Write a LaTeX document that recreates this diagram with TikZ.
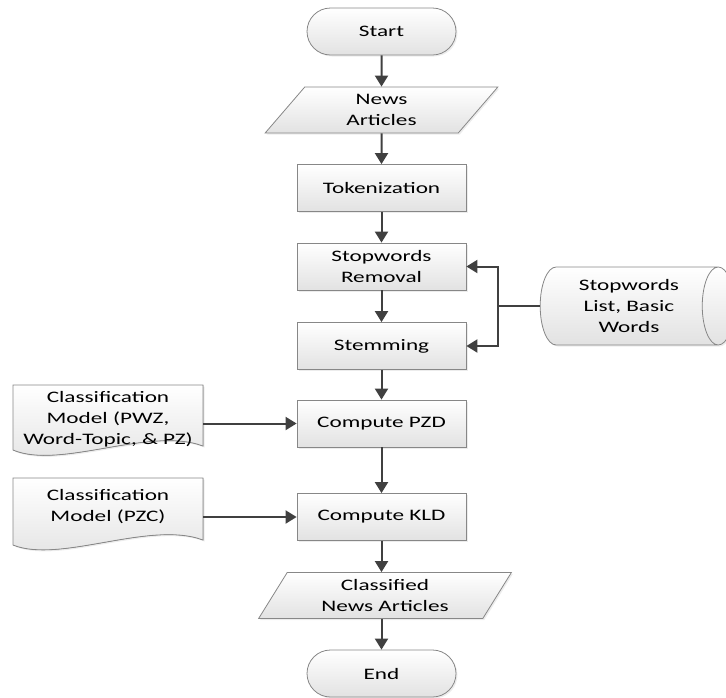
\documentclass[tikz,border=0pt]{standalone}
\usepackage{fontspec}
\setmainfont{Carlito}[FakeStretch=1.45]
\usetikzlibrary{shapes.geometric,shapes.misc,arrows.meta,shadows}
\definecolor{FlowLGray}{RGB}{226,226,226}
\definecolor{FlowGray}{RGB}{135,135,135}
\definecolor{FlowDGray}{RGB}{64,64,64}

\tikzset{
  flowfill/.style={draw=FlowGray, line width=0.8pt, top color=white, bottom color=FlowLGray,
    drop shadow={opacity=0.15, shadow xshift=1.5pt, shadow yshift=-1.5pt}},
  flowtext/.style={font=\fontsize{16}{21}\selectfont, align=center, inner sep=0pt},
  procbox/.style={flowfill, flowtext, rectangle, minimum width=169pt, minimum height=47pt},
  termbox/.style={flowfill, flowtext, rounded rectangle, minimum width=149pt, minimum height=47pt},
  iobox/.style={flowfill, flowtext, trapezium, trapezium left angle=60, trapezium right angle=120,
    trapezium stretches=true, minimum height=46pt},
  doctext/.style={flowtext, minimum width=190pt},
  arr/.style={-{Triangle[length=11pt,width=13pt]}, line width=2pt, draw=FlowDGray}
}

\begin{document}
\begin{tikzpicture}[x=1pt, y=-1pt]
\pgfmathsetmacro{\xc}{381.5} % x of the main column

\useasboundingbox (0,0) rectangle (726,697); % page

\node[termbox] (start) at (\xc, 31.5) {Start};
\node[iobox, minimum width=233pt] (news) at (\xc, 110) {News\\Articles};
\node[procbox] (token) at (\xc, 188) {Tokenization};
\node[procbox] (stopr) at (\xc, 266.5) {Stopwords\\Removal};
\node[procbox] (stem) at (\xc, 346) {Stemming};
\node[procbox] (pzd) at (\xc, 423.5) {Compute PZD};
\node[procbox] (kld) at (\xc, 517) {Compute KLD};
\node[iobox, minimum width=253pt] (classif) at (385, 595.5) {Classified\\News Articles};
\node[termbox] (finish) at (\xc, 673.5) {End};

% stopword list (drum)
\node[flowfill, flowtext, cylinder, aspect=0.6, minimum height=194pt, minimum width=78pt,
  shape border rotate=0] (stoplist) at (629, 306) {Stopwords\\List, Basic\\Words};

% classification models (documents)
\filldraw[flowfill] (13,385) -- (203,385) -- (203,446) .. controls (150,426) and (60,470) .. (13,450) -- cycle; %PWZ model
\node[doctext] (pwz) at (108, 419) {Classification\\Model (PWZ,\\Word-Topic, \& PZ)};
\filldraw[flowfill] (13,478) -- (203,478) -- (203,540) .. controls (150,520) and (60,564) .. (13,545) -- cycle; %PZC model
\node[doctext] (pzc) at (108, 507) {Classification\\Model (PZC)};

% main flow
\draw[arr] (start) -- (news);
\draw[arr] (news) -- (token);
\draw[arr] (token) -- (stopr);
\draw[arr] (stopr) -- (stem);
\draw[arr] (stem) -- (pzd);
\draw[arr] (pzd) -- (kld);
\draw[arr] (kld.south) -- (kld.south |- classif.north);
\draw[arr] (finish.north |- classif.south) -- (finish.north);

% side inputs
\coordinate (split) at (498, 306);
\draw[line width=2pt, draw=FlowDGray] (stoplist.west) -- (split);
\draw[arr] (split) |- (stopr.east);
\draw[arr] (split) |- (stem.east);
\draw[arr] (pwz.east |- pzd.west) -- (pzd.west);
\draw[arr] (pzc.east |- kld.west) -- (kld.west);

\end{tikzpicture}
\end{document}
